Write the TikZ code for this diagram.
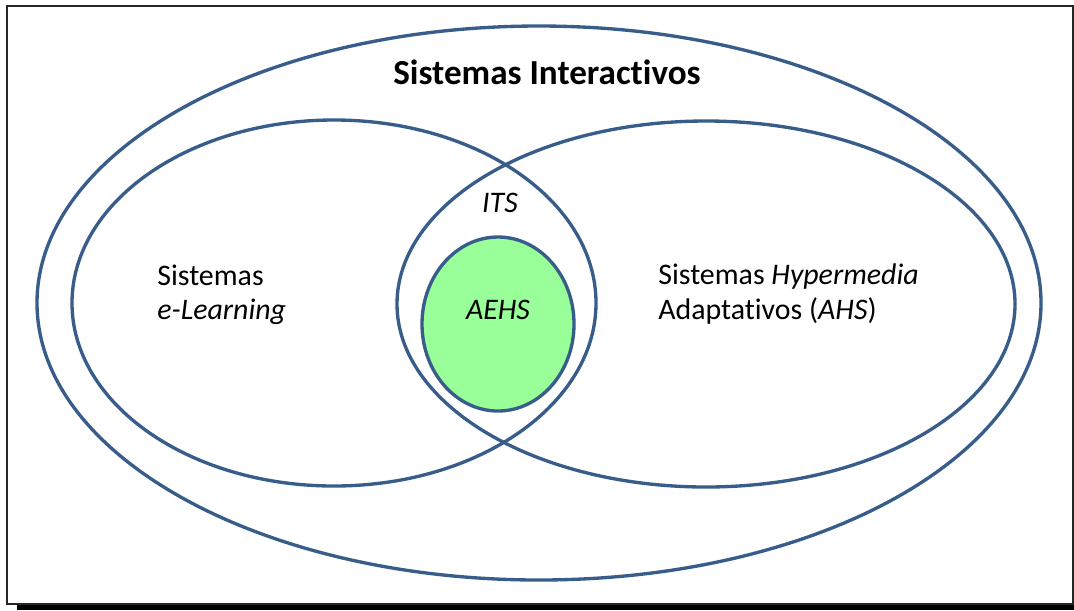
\documentclass[tikz,border=0pt]{standalone}
\usepackage{fontspec}
\setmainfont{Carlito}[Ligatures=NoCommon]
\usepackage{tikz}

\definecolor{setline}{RGB}{56,93,138}
\definecolor{aehsfill}{RGB}{153,255,153}

\begin{document}
\begin{tikzpicture}[x=0.02cm, y=-0.02cm,
  set/.style={draw=setline, line width=1.9pt},
  label/.style={inner sep=0pt, font=\fontsize{17}{19.5}\selectfont}]
\useasboundingbox (0,0) rectangle (1074,610);

% frame and shadow
\fill[black]            (17,604) rectangle (1074,610);
\draw[fill=white, draw=black!85, line width=0.6pt] (7,6) rectangle (1073,604);

% sets
\draw  [set]  (539,303) ellipse (502 and 277);
\draw  [set]  (334,303) ellipse (262 and 183);
\draw  [set]  (706,304) ellipse (309 and 183);
\draw  [set, fill=aehsfill] (498,324) ellipse (76 and 87);


% Heading
\node  (title)  at  (547,72) {\fontsize{20}{24}\selectfont\bfseries Sistemas Interactivos};

% labels
\node  [label, align=left, anchor=west] (elearn) at (157,295) {Sistemas\\\textit{e-Learning}};
\node  [label, align=left, anchor=west] (ahs)    at (658,294) {Sistemas \textit{Hypermedia}\\Adaptativos (\textit{AHS})};
\node  [label] (its)  at (500,203) {\textit{ITS}};
\node  [label] (aehs) at (498,310) {\textit{AEHS}};
\end{tikzpicture}
\end{document}
